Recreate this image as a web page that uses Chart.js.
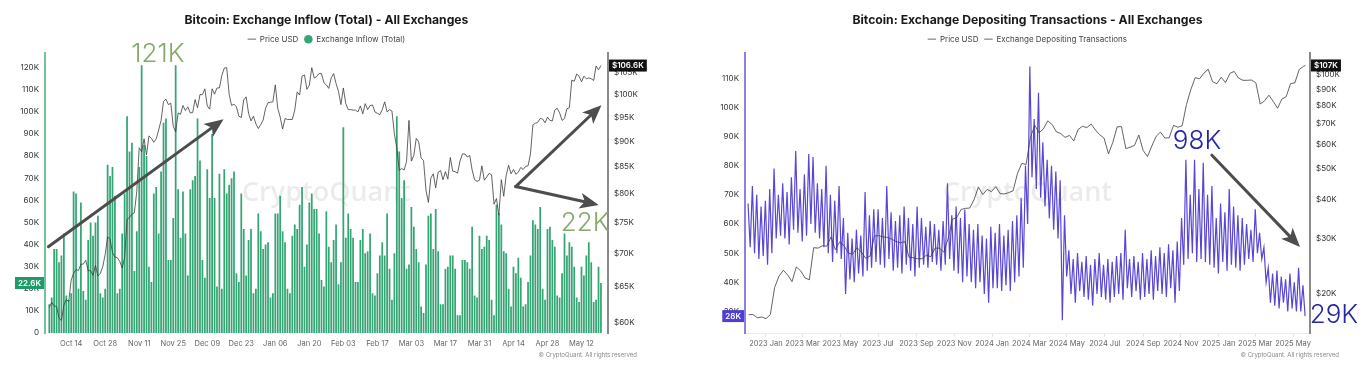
<!DOCTYPE html>
<html>
<head>
<meta charset="utf-8">
<script src="https://cdn.jsdelivr.net/npm/chart.js@4.4.1/dist/chart.umd.min.js"></script>
<style>
  html, body { margin: 0; padding: 0; background: #fff; }
  #wrap { position: relative; width: 1366px; height: 369px; }
  .pane { position: absolute; top: 0; width: 683px; height: 369px; }
</style>
</head>
<body>
<div id="wrap">
  <div class="pane" style="left:0"><canvas id="inflowChart" width="683" height="369"></canvas></div>
  <div class="pane" style="left:683px"><canvas id="depositChart" width="683" height="369"></canvas></div>
</div>
<script>
// ---------- left chart: daily exchange inflow (K BTC), 5 Oct 2024 -> 20 May 2025 ----------
const inflowStart = Date.UTC(2024, 9, 5);
const inflowK = [
  13, 16, 38, 38, 32, 35, 45,
  17, 15, 18, 64, 63, 20, 59,
  19, 15, 42, 50, 44, 50, 53,
  18, 16, 20, 76, 71, 75, 62,
  18, 20, 45, 63, 98, 82, 86,
  28, 46, 75, 121, 85, 80, 30,
  23, 63, 66, 45, 73, 95, 97,
  33, 33, 52, 121, 65, 43, 64,
  45, 26, 65, 69, 71, 97, 78,
  33, 25, 74, 61, 90, 61, 21,
  72, 20, 74, 63, 67, 70, 73,
  27, 23, 63, 47, 26, 42, 47,
  18, 20, 54, 46, 38, 40, 41,
  16, 18, 54, 54, 62, 46, 41,
  20, 18, 44, 49, 47, 58, 66,
  30, 40, 59, 63, 56, 56, 45,
  24, 21, 55, 39, 32, 42, 49,
  22, 32, 93, 43, 54, 47, 43,
  23, 23, 42, 47, 36, 37, 45,
  18, 17, 27, 35, 41, 35, 54,
  29, 15, 36, 98, 82, 61, 69,
  29, 31, 57, 48, 38, 32, 12,
  9, 31, 53, 54, 38, 56, 37,
  13, 13, 29, 30, 35, 35, 29,
  8, 8, 33, 33, 32, 29, 48,
  17, 16, 44, 38, 39, 44, 42,
  15, 8, 58, 54, 49, 37, 36,
  20, 12, 30, 27, 34, 25, 12,
  13, 23, 35, 51, 49, 47, 57,
  20, 15, 47, 48, 42, 39, 17,
  16, 27, 45, 35, 41, 39, 30,
  16, 14, 30, 26, 35, 41, 32,
  14, 15, 30, 22.6
];
// BTC price (K USD), same days
const inflowPriceK = [
  62.1, 62.8, 62.3, 62.2, 60.6, 60.3, 62.4, 63.2, 62.9, 66.0, 67.0, 67.6, 67.4, 68.4, 68.4, 69.0, 67.4, 67.4, 66.7, 68.2, 66.6, 67.0, 68.0, 69.9, 72.7, 72.3, 70.2,
  69.5, 69.4, 68.8, 67.8, 69.4, 75.6, 75.9, 76.5, 76.7, 80.5, 88.7, 87.9, 90.5, 87.3, 91.1, 90.6, 89.8, 90.5, 92.3, 94.3, 98.4, 98.9, 97.7, 98.0, 93.1, 91.9, 95.9, 95.6, 97.5, 96.4,
  97.2, 95.9, 96.0, 98.8, 97.0, 99.9, 99.9, 101.2, 97.4, 96.7, 101.2, 100.0, 101.4, 101.4, 104.3, 106.0, 106.1, 100.0, 97.5, 97.8, 97.2, 95.2, 94.9, 98.7, 99.4, 95.8, 94.2, 95.2, 93.6, 92.6, 93.4,
  94.4, 96.9, 98.1, 98.2, 98.3, 102.1, 96.9, 95.0, 92.5, 94.7, 94.5, 94.5, 94.5, 96.5, 100.5, 99.8, 104.1, 104.4, 101.1, 102.0, 106.1, 103.7, 104.0, 104.7, 104.7, 102.6, 102.1, 101.3, 103.7, 104.7, 102.4,
  100.6, 97.7, 101.4, 97.9, 96.6, 96.6, 96.5, 96.5, 96.1, 97.4, 95.7, 97.9, 96.6, 97.5, 97.6, 96.1, 95.8, 95.5, 96.6, 98.3, 96.1, 96.6, 96.3, 91.5, 88.7, 84.3, 84.7, 84.4,
  86.0, 94.3, 86.1, 87.2, 90.6, 89.9, 86.7, 86.2, 80.7, 78.5, 82.9, 83.7, 81.1, 84.0, 84.3, 82.6, 84.1, 82.7, 86.8, 84.2, 84.1, 83.8, 86.1, 87.5, 87.5, 86.9, 87.2, 84.4, 82.6, 82.3, 82.5,
  85.2, 82.5, 83.1, 83.8, 83.5, 78.2, 79.2, 76.3, 82.6, 79.6, 83.4, 85.3, 83.7, 84.5, 83.6, 84.0, 84.9, 84.5, 85.1, 85.2, 87.5, 93.4, 93.7, 93.9, 94.7, 94.6, 93.8, 95.0, 94.3, 94.2,
  96.5, 96.9, 95.9, 94.3, 94.7, 96.8, 97.0, 103.2, 102.9, 104.6, 104.1, 102.8, 104.1, 103.5, 103.7, 103.5, 103.1, 106.5, 105.6, 106.6
];
const inflowTickDays = [9, 23, 37, 51, 65, 79, 93, 107, 121, 135, 149, 163, 177, 191, 205, 219];
const inflowLeftTicks = [0, 10, 20, 30, 40, 50, 60, 70, 80, 90, 100, 110, 120];
const inflowRightTicks = [60, 65, 70, 75, 80, 85, 90, 95, 100, 105];

// ---------- right chart: exchange depositing transactions (K), Dec 2022 -> May 2025 ----------
const depStart = Date.UTC(2022, 11, 1);
const depFirstDay = 2;      // 3 Dec 2022
const depStep = 3.5;        // two readings a week: weekday high, weekend low
const depositK = [
  67, 52, 73, 50, 70, 48, 66, 49, 68, 46, 72, 50, 79, 55, 70, 56, 74, 55, 71, 53,
  76, 58, 85, 57, 72, 54, 77, 56, 84, 60, 83, 57, 74, 55, 72, 52, 80, 50, 70, 47,
  68, 50, 73, 48, 62, 36, 57, 41, 55, 40, 58, 43, 56, 42, 71, 44, 63, 45, 65, 47,
  65, 46, 62, 45, 73, 48, 64, 44, 61, 45, 63, 43, 66, 46, 62, 44, 60, 42, 66, 45,
  62, 46, 59, 45, 61, 47, 60, 46, 58, 44, 61, 46, 74, 48, 63, 44, 66, 43, 62, 40,
  65, 42, 60, 40, 58, 38, 60, 40, 56, 36, 55, 33, 59, 38, 57, 38, 60, 37, 56, 39,
  58, 37, 61, 40, 63, 42, 69, 45, 80, 60, 114, 76, 96, 72, 105, 69, 88, 66, 82, 62,
  80, 58, 78, 55, 75, 27, 63, 42, 51, 36, 48, 33, 50, 37, 47, 35, 49, 34, 46, 32,
  48, 36, 50, 35, 46, 34, 48, 33, 47, 35, 49, 36, 50, 34, 58, 38, 48, 35, 49, 37,
  47, 34, 50, 35, 48, 36, 51, 34, 49, 37, 52, 36, 50, 35, 53, 38, 51, 33, 54, 37,
  62, 46, 82, 48, 70, 50, 82, 47, 72, 48, 81, 47, 70, 46, 73, 45, 62, 43, 67, 47,
  64, 44, 72, 46, 66, 45, 63, 44, 62, 46, 60, 48, 58, 47, 65, 50, 57, 48, 52, 40,
  45, 33, 43, 32, 44, 31, 42, 33, 41, 30, 43, 31, 40, 30, 45, 30, 39, 28.4
];
// weekly BTC price (K USD), Sundays from 4 Dec 2022, then 21 May 2025
const depPriceFirstDay = 3;
const depPriceK = [
  17.1, 17.1, 16.7, 16.8,
  16.6, 17.1, 20.9, 22.7, 23.7, 22.9, 21.8, 24.3, 23.6, 22.4, 22.1, 28.0, 27.9,
  28.4, 28.3, 30.3, 27.6, 29.2, 28.4, 26.9, 26.7, 28.0, 27.1, 25.9, 26.3, 30.5,
  30.6, 30.3, 30.2, 29.8, 29.3, 29.0, 29.3, 26.1, 26.0, 25.8, 25.8, 26.5, 26.2,
  27.9, 27.9, 27.1, 29.9, 34.5, 35.0, 37.1, 37.4, 37.5, 39.9, 43.8, 41.4, 43.0, 42.3,
  43.9, 41.7, 41.6, 42.0, 42.6, 48.3, 52.1, 51.7, 63.1, 68.9, 65.3, 67.2, 71.3,
  69.4, 65.7, 64.9, 63.1, 64.0, 61.5, 66.9, 68.5, 67.8, 69.6, 66.6, 64.3, 62.7,
  55.9, 60.8, 68.2, 68.3, 58.1, 58.7, 59.5, 64.2, 57.3, 54.8, 59.2, 63.6, 65.6,
  62.8, 62.9, 69.0, 68.0, 68.8, 80.5, 89.8, 98.0, 97.2, 101.2, 104.3, 95.2, 93.7,
  98.3, 94.5, 101.1, 102.6, 97.7, 96.1, 96.1, 96.3, 94.3, 80.7, 82.6, 86.1, 82.3,
  78.2, 83.7, 85.2, 93.8, 94.3, 104.1, 106.5, 107.2
];
const depTickMonths = ['2023-01', '2023-03', '2023-05', '2023-07', '2023-09', '2023-11',
  '2024-01', '2024-03', '2024-05', '2024-07', '2024-09', '2024-11', '2025-01', '2025-03', '2025-05'];
const depLeftTicks = [30, 40, 50, 60, 70, 80, 90, 100, 110];
const depRightTicks = [20, 30, 40, 50, 60, 70, 80, 90, 100];

const MONTHS = ['Jan', 'Feb', 'Mar', 'Apr', 'May', 'Jun', 'Jul', 'Aug', 'Sep', 'Oct', 'Nov', 'Dec'];
const FONT = 'Inter, "Noto Sans", sans-serif';
const DAY = 864e5;

function shortDay(start, n) {
  const d = new Date(start + n * DAY);
  return MONTHS[d.getUTCMonth()] + ' ' + String(d.getUTCDate()).padStart(2, '0');
}

const depTickDays = depTickMonths.map(m => {
  const [y, mo] = m.split('-').map(Number);
  return (Date.UTC(y, mo - 1, 1) - depStart) / DAY;
});
const depTickLabels = depTickMonths.map(m => {
  const [y, mo] = m.split('-').map(Number);
  return y + ' ' + MONTHS[mo - 1];
});

// arrows, notes, last-value tags, watermark, copyright
function drawArrow(ctx, x0, y0, x1, y1) {
  const a = Math.atan2(y1 - y0, x1 - x0);
  const head = 19, half = 8;
  const cos = Math.cos(a), sin = Math.sin(a);
  const bx = x1 - head * cos, by = y1 - head * sin;
  ctx.strokeStyle = '#4d4d4d';
  ctx.fillStyle = '#4d4d4d';
  ctx.lineWidth = 3;
  ctx.lineCap = 'round';
  ctx.beginPath();
  ctx.moveTo(x0, y0);
  ctx.lineTo(x1 - head * 0.7 * cos, y1 - head * 0.7 * sin);
  ctx.stroke();
  ctx.beginPath();
  ctx.moveTo(x1, y1);
  ctx.lineTo(bx + half * sin, by - half * cos);
  ctx.lineTo(x1 - head * 0.75 * cos, y1 - head * 0.75 * sin);
  ctx.lineTo(bx - half * sin, by + half * cos);
  ctx.closePath();
  ctx.fill();
}

function drawTag(ctx, text, x, y, bg, side) {
  ctx.font = '600 8px ' + FONT;
  const w = ctx.measureText(text).width + 6, h = 12;
  const left = side === 'left' ? x - w : x;
  ctx.fillStyle = bg;
  ctx.fillRect(left, y - h / 2, w, h);
  ctx.fillStyle = '#fff';
  ctx.textAlign = 'center';
  ctx.textBaseline = 'middle';
  ctx.fillText(text, left + w / 2, y + 0.5);
}

const decor = {
  id: 'decor',
  beforeDatasetsDraw(chart) {
    const { ctx, chartArea: a } = chart;
    ctx.save();
    ctx.font = '600 27px "Open Sans", sans-serif';
    ctx.fillStyle = 'rgba(0,0,0,0.08)';
    ctx.textAlign = 'center';
    ctx.textBaseline = 'middle';
    ctx.fillText('CryptoQuant', (a.left + a.right) / 2, (a.top + a.bottom) / 2);
    ctx.restore();
  },
  afterDraw(chart, args, opts) {
    const { ctx, chartArea: a, scales } = chart;
    const sx = scales.x, sy = scales.y, sr = scales.y1;
    ctx.save();
    (opts.arrows || []).forEach(ar => {
      const x0 = sx.getPixelForValue(ar.from[0]), y0 = sy.getPixelForValue(ar.from[1]);
      ar.to.forEach(t => drawArrow(ctx, x0, y0, sx.getPixelForValue(t[0]), sy.getPixelForValue(t[1])));
    });
    (opts.notes || []).forEach(n => {
      ctx.font = '300 26px ' + FONT;
      ctx.fillStyle = n.color;
      ctx.textAlign = 'center';
      ctx.textBaseline = 'middle';
      ctx.fillText(n.text, sx.getPixelForValue(n.at[0]), sy.getPixelForValue(n.at[1]));
    });
    (opts.tags || []).forEach(t => {
      const scale = t.axis === 'y1' ? sr : sy;
      const x = t.axis === 'y1' ? a.right + 1 : a.left - 1;
      drawTag(ctx, t.text, x, scale.getPixelForValue(t.value), t.bg, t.axis === 'y1' ? 'right' : 'left');
    });
    ctx.font = '6px ' + FONT;
    ctx.fillStyle = '#888';
    ctx.textAlign = 'right';
    ctx.textBaseline = 'middle';
    ctx.fillText('\u00A9 CryptoQuant. All rights reserved', a.right + 29, 355);
    ctx.restore();
  }
};

function setTicks(list) {
  return s => { s.ticks = list.map(v => ({ value: v })); };
}

// legend dashes are drawn grey for line series, like the source
function legendItems(chart) {
  return Chart.defaults.plugins.legend.labels.generateLabels(chart).map(item =>
    item.pointStyle === 'line' ? Object.assign(item, { strokeStyle: '#666', lineWidth: 1 }) : item);
}

const commonPlugins = (title) => ({
  title: {
    display: true, text: title, fullSize: false, color: '#1a1a1a',
    font: { family: FONT, size: 12.2, weight: 'bold' },
    padding: { top: 12, bottom: 1.5 }
  },
  legend: {
    display: true, fullSize: false,
    labels: { usePointStyle: true, boxWidth: 8, boxHeight: 6, padding: 6, color: '#444', font: { family: FONT, size: 8 }, generateLabels: legendItems }
  },
  tooltip: { enabled: false }
});

const tickFont = { family: FONT, size: 8 };

// ---------- left chart ----------
new Chart(document.getElementById('inflowChart'), {
  type: 'bar',
  data: {
    labels: inflowK.map((_, i) => i),
    datasets: [
      {
        type: 'line', label: 'Price USD', data: inflowPriceK, yAxisID: 'y1', order: 0,
        borderColor: '#3c3c3c', borderWidth: 0.8, pointRadius: 0, tension: 0, pointStyle: 'line', backgroundColor: '#3c3c3c'
      },
      {
        type: 'bar', label: 'Exchange Inflow (Total)', data: inflowK, yAxisID: 'y', order: 1,
        backgroundColor: '#35a574', borderWidth: 0, categoryPercentage: 0.8, barPercentage: 0.9, pointStyle: 'circle'
      }
    ]
  },
  options: {
    responsive: false, animation: false, devicePixelRatio: 1,
    layout: { padding: { top: 1 } },
    plugins: Object.assign(commonPlugins('Bitcoin: Exchange Inflow (Total) - All Exchanges'), {
      decor: {
        arrows: [
          { from: [-0.4, 39], to: [[71.7, 96.6]] },
          { from: [191.9, 66.2], to: [[227.2, 103], [226.1, 57.9]] }
        ],
        notes: [
          { text: '121K', at: [44.7, 126], color: '#86a86a' },
          { text: '22K', at: [220.5, 49.8], color: '#86a86a' }
        ],
        tags: [
          { axis: 'y', value: inflowK[inflowK.length - 1], text: inflowK[inflowK.length - 1] + 'K', bg: '#1f9b69' },
          { axis: 'y1', value: inflowPriceK[inflowPriceK.length - 1], text: '$' + inflowPriceK[inflowPriceK.length - 1] + 'K', bg: '#111' }
        ]
      }
    }),
    scales: {
      x: {
        type: 'linear', min: -1.77, max: 229.9, offset: false,
        afterBuildTicks: setTicks(inflowTickDays),
        ticks: { callback: v => shortDay(inflowStart, v), color: '#666', font: { family: FONT, size: 7.5 }, maxRotation: 0, padding: 6, autoSkip: false },
        grid: { display: false, drawTicks: false, offset: false },
        border: { display: false },
        afterFit: s => { s.height = 36; }
      },
      y: {
        position: 'left', min: 0, max: 126.5,
        afterBuildTicks: setTicks(inflowLeftTicks),
        ticks: { callback: v => v === 0 ? '0' : v + 'K', color: '#333', font: tickFont, padding: 6 },
        grid: { display: false, drawTicks: false },
        border: { display: true, color: '#72c39c', width: 2 },
        afterFit: s => { s.width = 45; }
      },
      y1: {
        type: 'logarithmic', position: 'right', min: 58.64, max: 109.6,
        afterBuildTicks: setTicks(inflowRightTicks),
        ticks: { callback: v => '$' + v + 'K', color: '#333', font: tickFont, padding: 6 },
        grid: { display: false, drawTicks: false },
        border: { display: true, color: '#8a8a8a', width: 2 },
        afterFit: s => { s.width = 75; }
      }
    }
  },
  plugins: [decor]
});

// ---------- right chart ----------
new Chart(document.getElementById('depositChart'), {
  type: 'line',
  data: {
    datasets: [
      {
        label: 'Price USD', yAxisID: 'y1', order: 0,
        data: depPriceK.map((v, k) => ({ x: k < depPriceK.length - 1 ? depPriceFirstDay + 7 * k : 902, y: v })),
        borderColor: '#3c3c3c', backgroundColor: '#3c3c3c', borderWidth: 0.8, pointRadius: 0, pointStyle: 'line'
      },
      {
        label: 'Exchange Depositing Transactions', yAxisID: 'y', order: 1,
        data: depositK.map((v, i) => ({ x: depFirstDay + i * depStep, y: v })),
        borderColor: 'rgb(88,70,214)', backgroundColor: 'rgb(88,70,214)', borderWidth: 1.2, pointRadius: 0, pointStyle: 'line'
      }
    ]
  },
  options: {
    responsive: false, animation: false, devicePixelRatio: 1,
    layout: { padding: { top: 1 } },
    plugins: Object.assign(commonPlugins('Bitcoin: Exchange Depositing Transactions - All Exchanges'), {
      decor: {
        arrows: [
          { from: [751, 83.6], to: [[893.3, 52.1]] }
        ],
        notes: [
          { text: '98K', at: [727, 88.4], color: '#2727a6' },
          { text: '29K', at: [948, 28.8], color: '#2727a6' }
        ],
        tags: [
          { axis: 'y', value: depositK[depositK.length - 1], text: Math.floor(depositK[depositK.length - 1]) + 'K', bg: '#4e3dd6' },
          { axis: 'y1', value: depPriceK[depPriceK.length - 1], text: '$' + Math.round(depPriceK[depPriceK.length - 1]) + 'K', bg: '#111' }
        ]
      }
    }),
    scales: {
      x: {
        type: 'linear', min: -2.9, max: 909.4,
        afterBuildTicks: setTicks(depTickDays),
        ticks: { callback: (v, i) => depTickLabels[i], color: '#666', font: { family: FONT, size: 7.5 }, maxRotation: 0, padding: 2, autoSkip: false },
        grid: { display: true, drawOnChartArea: false, tickLength: 4, color: '#e2e2e2' },
        border: { display: true, color: '#ececec' },
        afterFit: s => { s.height = 36; }
      },
      y: {
        position: 'left', min: 22.6, max: 118.6,
        afterBuildTicks: setTicks(depLeftTicks),
        ticks: { callback: v => v + 'K', color: '#333', font: tickFont, padding: 6 },
        grid: { display: false, drawTicks: false },
        border: { display: true, color: '#8b80e6', width: 2 },
        afterFit: s => { s.width = 62; }
      },
      y1: {
        type: 'logarithmic', position: 'right', min: 14.93, max: 117.4,
        afterBuildTicks: setTicks(depRightTicks),
        ticks: { callback: v => '$' + v + 'K', color: '#333', font: tickFont, padding: 6 },
        grid: { display: false, drawTicks: false },
        border: { display: true, color: '#8a8a8a', width: 2 },
        afterFit: s => { s.width = 56; }
      }
    }
  },
  plugins: [decor]
});
</script>
</body>
</html>
